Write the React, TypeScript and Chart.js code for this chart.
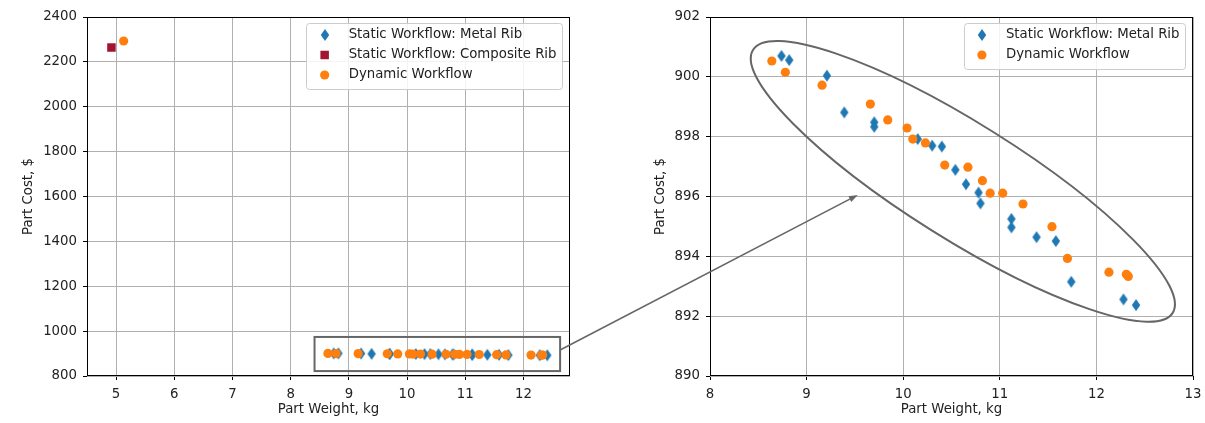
import React, { useEffect, useRef } from "react";
import { Chart, registerables } from "chart.js";

Chart.register(...registerables);

// ---------------- data ----------------
const METAL_RIB_WEIGHT = [8.74, 8.82, 9.21, 9.39, 9.7, 9.7, 10.15, 10.3, 10.4, 10.54, 10.65, 10.78, 10.8, 11.12, 11.12, 11.38, 11.58, 11.74, 12.28, 12.41];
const METAL_RIB_COST = [900.7, 900.56, 900.04, 898.81, 898.48, 898.33, 897.92, 897.7, 897.67, 896.89, 896.41, 896.13, 895.77, 895.25, 894.97, 894.64, 894.51, 893.15, 892.56, 892.37];

const COMPOSITE_RIB_WEIGHT = [4.92];
const COMPOSITE_RIB_COST = [2264];

const DYNAMIC_WEIGHT = [5.13, 8.64, 8.78, 9.16, 9.66, 9.84, 10.04, 10.1, 10.23, 10.43, 10.67, 10.82, 10.9, 11.03, 11.24, 11.54, 11.7, 12.13, 12.31, 12.33];
const DYNAMIC_COST = [2293, 900.53, 900.15, 899.72, 899.09, 898.56, 898.29, 897.92, 897.79, 897.05, 896.98, 896.53, 896.11, 896.11, 895.75, 894.99, 893.93, 893.47, 893.4, 893.33];

const LEFT_X_TICKS = [5, 6, 7, 8, 9, 10, 11, 12];
const LEFT_Y_TICKS = [800, 1000, 1200, 1400, 1600, 1800, 2000, 2200, 2400];
const RIGHT_X_TICKS = [8, 9, 10, 11, 12, 13];
const RIGHT_Y_TICKS = [890, 892, 894, 896, 898, 900, 902];

const LABEL_METAL = "Static Workflow: Metal Rib";
const LABEL_COMPOSITE = "Static Workflow: Composite Rib";
const LABEL_DYNAMIC = "Dynamic Workflow";
const X_TITLE = "Part Weight, kg";
const Y_TITLE = "Part Cost, $";

// annotations (data coordinates)
const ZOOM_BOX_X = [8.41, 12.63];
const ZOOM_BOX_Y = [822, 974];
const ARROW_FROM = [12.63, 916];
const ARROW_TO = [9.53, 896.05];
const ELLIPSE_TIP_A = [8.445, 900.9];
const ELLIPSE_TIP_B = [12.79, 892.11];
const ELLIPSE_MINOR_PX = 58;

// ---------------- styles ----------------
const BLUE = "#1f77b4";
const ORANGE = "#ff7f0e";
const CRIMSON = "#a2142f";
const GRAY = "#666666";
const TEXT = "#222222";
const FONT_FAMILY = "'DejaVu Sans'";
const FONT_SIZE = 13.3;
const W = 1205;
const H = 423;
const LEFT_W = 600;
const RIGHT_X0 = 600;
const RIGHT_W = 610;

function makeDiamond(color: string): HTMLCanvasElement {
  const c = document.createElement("canvas");
  c.width = 10;
  c.height = 14;
  const g = c.getContext("2d")!;
  g.fillStyle = color;
  g.beginPath();
  g.moveTo(5, 1);
  g.lineTo(9.2, 7);
  g.lineTo(5, 13);
  g.lineTo(0.8, 7);
  g.closePath();
  g.fill();
  return c;
}

function pts(xs: number[], ys: number[]) {
  return xs.map((x, i) => ({ x, y: ys[i] }));
}

const framePlugin = {
  id: "frame",
  afterDraw(chart: any) {
    const { ctx, chartArea: a } = chart;
    ctx.save();
    ctx.strokeStyle = "#000";
    ctx.lineWidth = 1;
    const l = Math.round(a.left) + 0.5;
    const t = Math.round(a.top) + 0.5;
    const r = Math.round(a.right) - 0.5;
    const b = Math.round(a.bottom) - 0.5;
    ctx.strokeRect(l, t, r - l, b - t);
    ctx.restore();
  },
};

function drawMarker(ctx: CanvasRenderingContext2D, kind: string, x: number, y: number, img?: HTMLCanvasElement) {
  if (kind === "diamond" && img) {
    ctx.drawImage(img, Math.round(x - img.width / 2), Math.round(y - img.height / 2));
  } else if (kind === "square") {
    ctx.fillStyle = CRIMSON;
    ctx.fillRect(x - 4.25, y - 4.25, 8.5, 8.5);
  } else {
    ctx.fillStyle = ORANGE;
    ctx.beginPath();
    ctx.arc(x, y, 4.6, 0, Math.PI * 2);
    ctx.fill();
  }
}

function legendPlugin(items: { label: string; kind: string }[], diamond: HTMLCanvasElement) {
  return {
    id: "mplLegend",
    afterDraw(chart: any) {
      const { ctx, chartArea: a } = chart;
      ctx.save();
      ctx.font = `${FONT_SIZE}px ${FONT_FAMILY}`;
      const tw = Math.max(...items.map((it) => ctx.measureText(it.label).width));
      const w = 42.4 + tw + 5.5;
      const h = items.length * 20 + 5.5;
      const right = a.right - 8;
      const top = a.top + 6;
      const left = right - w;
      ctx.fillStyle = "rgba(255,255,255,0.85)";
      ctx.strokeStyle = "#cccccc";
      ctx.lineWidth = 1;
      ctx.beginPath();
      (ctx as any).roundRect(Math.round(left) + 0.5, Math.round(top) + 0.5, Math.round(w), Math.round(h), 3);
      ctx.fill();
      ctx.stroke();
      items.forEach((it, i) => {
        const cy = top + 12 + i * 20;
        drawMarker(ctx, it.kind, left + 18.4, cy, diamond);
        ctx.fillStyle = TEXT;
        ctx.textBaseline = "middle";
        ctx.textAlign = "left";
        ctx.fillText(it.label, left + 42.4, cy);
      });
      ctx.restore();
    },
  };
}

const zoomBoxPlugin = {
  id: "zoomBox",
  afterDatasetsDraw(chart: any) {
    const { ctx, scales } = chart;
    const x1 = scales.x.getPixelForValue(ZOOM_BOX_X[0]);
    const x2 = scales.x.getPixelForValue(ZOOM_BOX_X[1]);
    const y1 = scales.y.getPixelForValue(ZOOM_BOX_Y[1]);
    const y2 = scales.y.getPixelForValue(ZOOM_BOX_Y[0]);
    ctx.save();
    ctx.strokeStyle = GRAY;
    ctx.lineWidth = 2;
    ctx.strokeRect(x1, y1, x2 - x1, y2 - y1);
    ctx.restore();
  },
};

const ellipsePlugin = {
  id: "ellipse",
  afterDatasetsDraw(chart: any) {
    const { ctx, scales } = chart;
    const ax = scales.x.getPixelForValue(ELLIPSE_TIP_A[0]);
    const ay = scales.y.getPixelForValue(ELLIPSE_TIP_A[1]);
    const bx = scales.x.getPixelForValue(ELLIPSE_TIP_B[0]);
    const by = scales.y.getPixelForValue(ELLIPSE_TIP_B[1]);
    const cx = (ax + bx) / 2;
    const cy = (ay + by) / 2;
    const semi = Math.hypot(bx - ax, by - ay) / 2;
    const rot = Math.atan2(by - ay, bx - ax);
    ctx.save();
    ctx.strokeStyle = GRAY;
    ctx.lineWidth = 2;
    ctx.beginPath();
    ctx.ellipse(cx, cy, semi, ELLIPSE_MINOR_PX, rot, 0, Math.PI * 2);
    ctx.stroke();
    ctx.restore();
  },
};

function makeOptions(cfg: {
  xMin: number; xMax: number; yMin: number; yMax: number;
  xTicks: number[]; yTicks: number[]; padding: any; yWidth: number;
}) {
  const font = { family: FONT_FAMILY, size: FONT_SIZE };
  const grid = { color: "#b0b0b0", lineWidth: 1, tickLength: 4, tickColor: "#000", drawTicks: true };
  return {
    animation: false,
    responsive: false,
    maintainAspectRatio: false,
    events: [],
    layout: { padding: cfg.padding },
    plugins: { legend: { display: false }, tooltip: { enabled: false } },
    scales: {
      x: {
        type: "linear",
        min: cfg.xMin,
        max: cfg.xMax,
        afterBuildTicks: (s: any) => { s.ticks = cfg.xTicks.map((v) => ({ value: v })); },
        afterFit: (s: any) => { s.height = 42; },
        grid,
        border: { display: false },
        ticks: { font, color: TEXT, padding: 7, maxRotation: 0, autoSkip: false, callback: (v: any) => String(v) },
        title: { display: true, text: X_TITLE, font, color: TEXT, padding: 0 },
      },
      y: {
        type: "linear",
        min: cfg.yMin,
        max: cfg.yMax,
        afterBuildTicks: (s: any) => { s.ticks = cfg.yTicks.map((v) => ({ value: v })); },
        afterFit: (s: any) => { s.width = cfg.yWidth; },
        grid,
        border: { display: false },
        ticks: { font, color: TEXT, padding: 6, autoSkip: false, callback: (v: any) => String(v) },
        title: { display: true, text: Y_TITLE, font, color: TEXT, padding: 0 },
      },
    },
  } as any;
}

export default function App() {
  const leftRef = useRef<HTMLCanvasElement>(null);
  const rightRef = useRef<HTMLCanvasElement>(null);
  const overRef = useRef<HTMLCanvasElement>(null);

  useEffect(() => {
    const diamond = makeDiamond(BLUE);
    const metal = {
      label: LABEL_METAL, data: pts(METAL_RIB_WEIGHT, METAL_RIB_COST),
      pointStyle: diamond, pointRadius: 6, backgroundColor: BLUE, borderWidth: 0, order: 2,
    };
    const composite = {
      label: LABEL_COMPOSITE, data: pts(COMPOSITE_RIB_WEIGHT, COMPOSITE_RIB_COST),
      pointStyle: "rect", pointRadius: 6, backgroundColor: CRIMSON, borderWidth: 0, order: 1,
    };
    const dynamic = {
      label: LABEL_DYNAMIC, data: pts(DYNAMIC_WEIGHT, DYNAMIC_COST),
      pointStyle: "circle", pointRadius: 4.6, backgroundColor: ORANGE, borderWidth: 0, order: 0,
    };

    const left = new Chart(leftRef.current!, {
      type: "scatter",
      data: { datasets: [metal, composite, dynamic] as any },
      options: makeOptions({
        xMin: 4.5, xMax: 12.8, yMin: 800, yMax: 2400,
        xTicks: LEFT_X_TICKS, yTicks: LEFT_Y_TICKS,
        padding: { left: 21, right: 30, top: 17, bottom: 5 }, yWidth: 66,
      }),
      plugins: [
        zoomBoxPlugin, framePlugin,
        legendPlugin([
          { label: LABEL_METAL, kind: "diamond" },
          { label: LABEL_COMPOSITE, kind: "square" },
          { label: LABEL_DYNAMIC, kind: "circle" },
        ], diamond),
      ],
    });

    const right = new Chart(rightRef.current!, {
      type: "scatter",
      data: { datasets: [{ ...metal, data: pts(METAL_RIB_WEIGHT, METAL_RIB_COST) }, { ...dynamic, data: pts(DYNAMIC_WEIGHT, DYNAMIC_COST) }] as any },
      options: makeOptions({
        xMin: 8, xMax: 13, yMin: 890, yMax: 902,
        xTicks: RIGHT_X_TICKS, yTicks: RIGHT_Y_TICKS,
        padding: { left: 53, right: 17, top: 17, bottom: 5 }, yWidth: 57,
      }),
      plugins: [
        ellipsePlugin, framePlugin,
        legendPlugin([
          { label: LABEL_METAL, kind: "diamond" },
          { label: LABEL_DYNAMIC, kind: "circle" },
        ], diamond),
      ],
    });

    // connecting arrow across both charts
    const oc = overRef.current!;
    const g = oc.getContext("2d")!;
    g.clearRect(0, 0, W, H);
    const sx = (left.scales as any).x.getPixelForValue(ARROW_FROM[0]);
    const sy = (left.scales as any).y.getPixelForValue(ARROW_FROM[1]);
    const ex = RIGHT_X0 + (right.scales as any).x.getPixelForValue(ARROW_TO[0]);
    const ey = (right.scales as any).y.getPixelForValue(ARROW_TO[1]);
    const ang = Math.atan2(ey - sy, ex - sx);
    const headL = 9;
    const headW = 3.2;
    const bx = ex - headL * Math.cos(ang);
    const by = ey - headL * Math.sin(ang);
    g.strokeStyle = GRAY;
    g.fillStyle = GRAY;
    g.lineWidth = 1.6;
    g.beginPath();
    g.moveTo(sx, sy);
    g.lineTo(bx, by);
    g.stroke();
    g.beginPath();
    g.moveTo(ex, ey);
    g.lineTo(bx + headW * Math.sin(ang), by - headW * Math.cos(ang));
    g.lineTo(bx - headW * Math.sin(ang), by + headW * Math.cos(ang));
    g.closePath();
    g.fill();

    return () => {
      left.destroy();
      right.destroy();
    };
  }, []);

  return (
    <div style={{ position: "fixed", left: 0, top: 0, width: W, height: H, background: "#fff", overflow: "hidden" }}>
      <canvas ref={leftRef} width={LEFT_W} height={H} style={{ position: "absolute", left: 0, top: 0, display: "block" }} />
      <canvas ref={rightRef} width={RIGHT_W} height={H} style={{ position: "absolute", left: RIGHT_X0, top: 0, display: "block" }} />
      <canvas ref={overRef} width={W} height={H} style={{ position: "absolute", left: 0, top: 0, display: "block", pointerEvents: "none" }} />
    </div>
  );
}
